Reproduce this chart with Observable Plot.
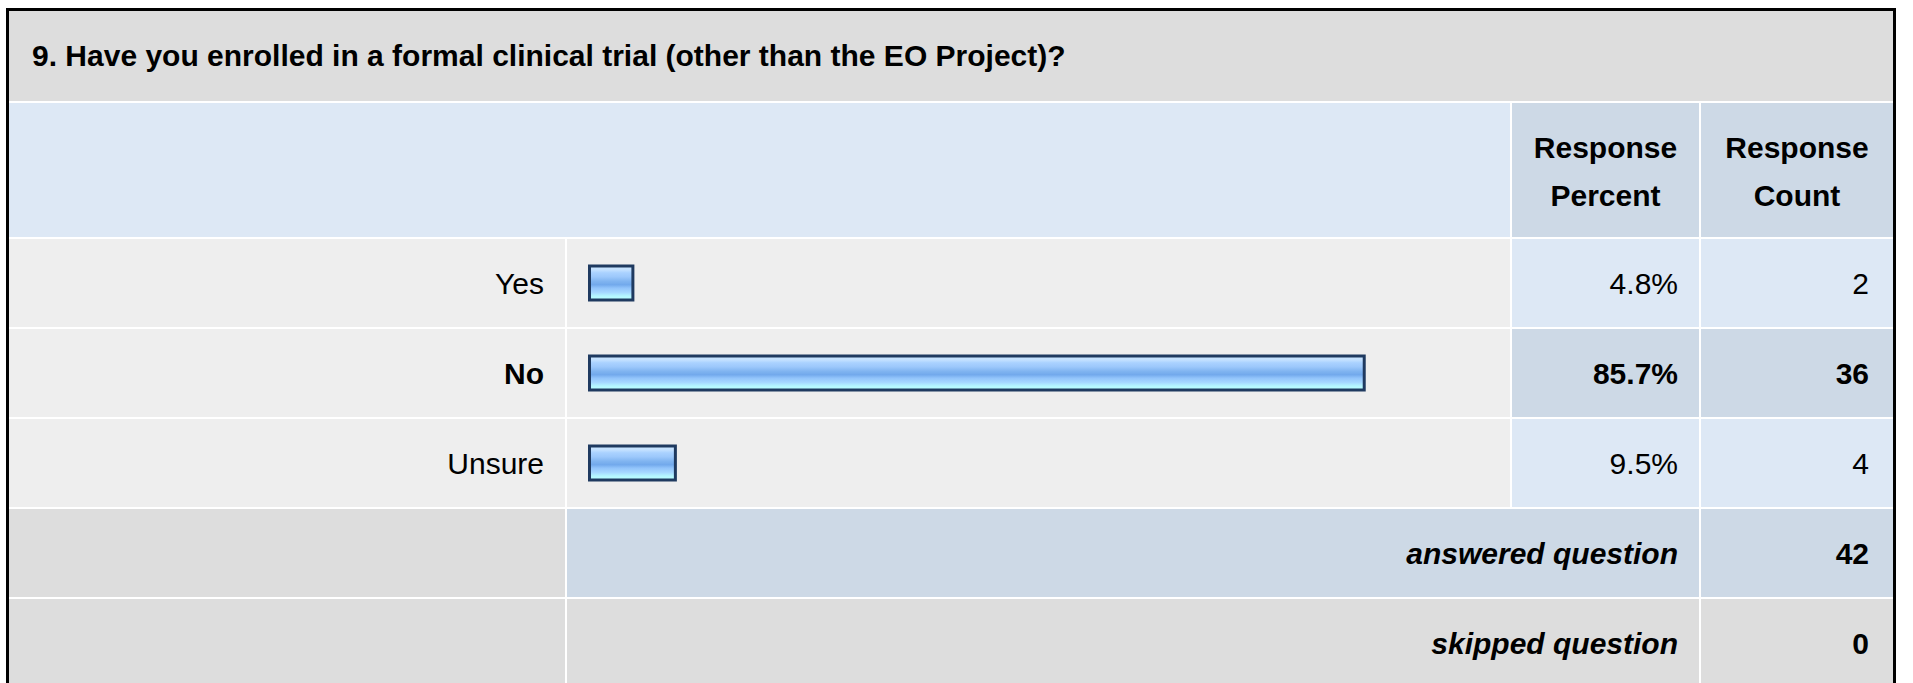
<!DOCTYPE html>
<html>
<head>
<meta charset="utf-8">
<script src="https://cdn.jsdelivr.net/npm/d3@7"></script>
<script src="https://cdn.jsdelivr.net/npm/@observablehq/plot@0.6"></script>
<style>
  html, body { margin: 0; padding: 0; background: #fff; width: 1913px; height: 683px; overflow: hidden;
    font-family: "Liberation Sans", Arial, Helvetica, sans-serif; }
  #frame { position: absolute; left: 6px; top: 8px; width: 1884px; border: 3px solid #000; border-bottom: none; background: #fff; }
  #grid { display: grid; grid-template-columns: 556px 943px 187px 192px;
    grid-template-rows: 90px 134px 88px 88px 88px 88px 88px; gap: 2px; }
  .cell { display: flex; align-items: center; font-size: 30px; color: #000; box-sizing: border-box; white-space: nowrap; }
  .title { grid-column: 1 / 5; background: #dddddd; font-weight: bold; padding-left: 23px; }
  .hblank { grid-column: 1 / 3; background: #dde8f5; }
  .hcol { background: #cdd9e6; font-weight: bold; justify-content: center; text-align: center; line-height: 48px; padding-top: 4px; }
  .lab { background: #eeeeee; justify-content: flex-end; padding-right: 21px; padding-top: 2px; }
  .barcell { background: #eeeeee; }
  .pct { justify-content: flex-end; padding-right: 21px; padding-top: 2px; }
  .cnt { justify-content: flex-end; padding-right: 24px; padding-top: 2px; }
  .light { background: #dde8f5; }
  .dark { background: #cdd9e6; }
  .gray { background: #dddddd; }
  .bold { font-weight: bold; }
  .sum { grid-column: 2 / 4; justify-content: flex-end; padding-right: 21px; padding-top: 2px; font-weight: bold; font-style: italic; }
  #bars { position: absolute; left: 558px; top: 227px; }
</style>
</head>
<body>
<svg width="0" height="0" style="position:absolute">
  <defs>
    <linearGradient id="barGrad" x1="0" y1="0" x2="0" y2="1">
      <stop offset="0" stop-color="#cce6ff"/>
      <stop offset="0.12" stop-color="#c2e0ff"/>
      <stop offset="0.2" stop-color="#aad2ff"/>
      <stop offset="0.32" stop-color="#9cc8fb"/>
      <stop offset="0.45" stop-color="#80b4f0"/>
      <stop offset="0.55" stop-color="#72a9ec"/>
      <stop offset="0.65" stop-color="#92c4fb"/>
      <stop offset="0.78" stop-color="#a6d8ff"/>
      <stop offset="0.88" stop-color="#b4f6ff"/>
      <stop offset="1" stop-color="#bcffff"/>
    </linearGradient>
  </defs>
</svg>
<div id="frame">
  <div id="grid"></div>
  <div id="bars"></div>
</div>
<script>
const questionTitle = "9. Have you enrolled in a formal clinical trial (other than the EO Project)?";
const headerPercent = ["Response", "Percent"];
const headerCount = ["Response", "Count"];
const categories = ["Yes", "No", "Unsure"];
const percents = [4.8, 85.7, 9.5];
const counts = [2, 36, 4];
const summaryLabels = ["answered question", "skipped question"];
const summaryValues = [42, 0];

const rows = categories.map((label, i) => ({label, percent: percents[i], count: counts[i]}));
const maxIdx = d3.maxIndex(percents);
const fmtPct = d => d3.format(".1f")(d) + "%";

const grid = document.getElementById("grid");
function cell(cls, text) {
  const d = document.createElement("div");
  d.className = "cell " + cls;
  if (text !== undefined) d.innerHTML = text;
  grid.appendChild(d);
  return d;
}
cell("title", questionTitle);
cell("hblank");
cell("hcol", headerPercent.join("<br>"));
cell("hcol", headerCount.join("<br>"));
rows.forEach((r, i) => {
  const hi = i === maxIdx;
  cell("lab" + (hi ? " bold" : ""), r.label);
  cell("barcell");
  cell("pct " + (hi ? "dark bold" : "light"), fmtPct(r.percent));
  cell("cnt " + (hi ? "dark bold" : "light"), String(r.count));
});
cell("gray");
cell("sum dark", summaryLabels[0]);
cell("cnt dark bold", String(summaryValues[0]));
cell("gray");
cell("sum gray", summaryLabels[1]);
cell("cnt gray bold", String(summaryValues[1]));

const chart = Plot.plot({
  width: 943,
  height: 270,
  marginTop: 0,
  marginBottom: 0,
  marginLeft: 22.5,
  marginRight: 16.5,
  x: {domain: [0, 100], axis: null},
  y: {domain: categories, axis: null, padding: 0},
  style: {background: "transparent", overflow: "visible"},
  marks: [
    Plot.barX(rows, {
      x: "percent",
      y: "label",
      fill: "url(#barGrad)",
      stroke: "#1f3a60",
      strokeWidth: 3,
      insetTop: 28,
      insetBottom: 28
    })
  ]
});
document.getElementById("bars").appendChild(chart);
</script>
</body>
</html>
